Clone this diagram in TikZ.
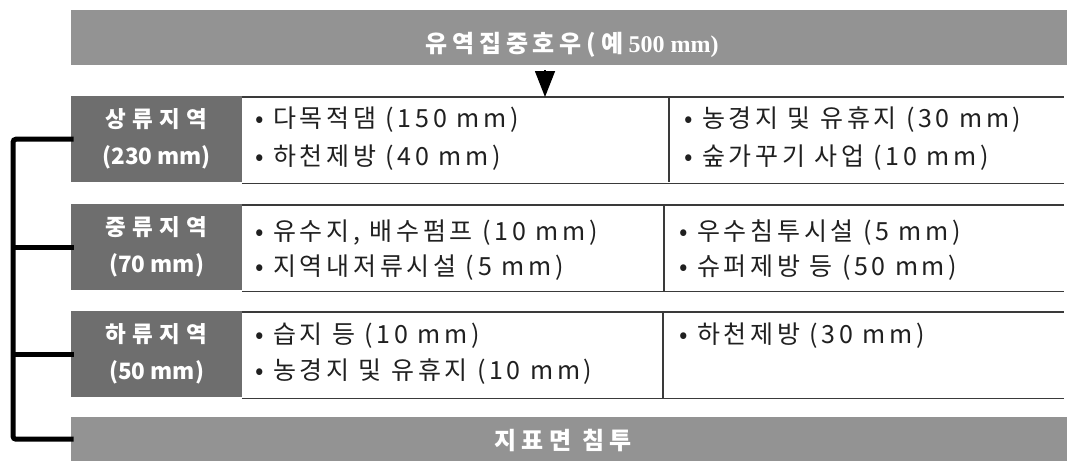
\documentclass[tikz,border=0pt]{standalone}
\usepackage{fontspec}
\setmainfont{Noto Sans CJK KR}
\newfontfamily\serifnum{Liberation Serif}
\usetikzlibrary{arrows.meta}
\definecolor{bannergray}{HTML}{939393}
\definecolor{labelgray}{HTML}{6E6E6E}
\definecolor{rulegray}{HTML}{3A3A3A}
\definecolor{inkgray}{HTML}{202020}
\newcommand{\spaced}[2]{{\addfontfeature{LetterSpace=#1}#2}}
\tikzset{
  banner/.style={fill=bannergray, draw=none, anchor=north west, inner sep=0pt},
  bannertext/.style={inner sep=0pt, text=white, font=\fontsize{24}{26}\selectfont\bfseries},
  regionlabel/.style={fill=labelgray, draw=none, anchor=north west, inner sep=0pt,
    minimum width=171pt, minimum height=86pt, align=center,
    font=\fontsize{22.5}{37}\selectfont\bfseries, text=white},
  rowframe/.style={draw=none, anchor=north west, inner sep=0pt, minimum height=86pt},
  rowline/.style={draw=rulegray, line width=1.3pt},
  item/.style={anchor=west, inner sep=0pt, font=\fontsize{25}{27}\selectfont\addfontfeature{LetterSpace=15}, text=inkgray},
  spine/.style={draw=black, line width=5pt, rounded corners=3pt, line cap=rect},
  flowarrow/.style={draw=black, line width=1.5pt, -{Triangle[length=26pt,width=20pt]}}
}
\begin{document}
\begin{tikzpicture}[x=1pt,y=-1pt]
\useasboundingbox (0,0) rectangle (1067,461);
% top banner
\node[banner, minimum width=996pt, minimum height=55pt] (top) at (71,10) {};
\node[bannertext] (toptext) at (572,45)
  {\spaced{20}{유역집중호우(예} {\serifnum 500 mm)}};
% row 1
\node[regionlabel] (l1) at (71,96) {\spaced{28}{상류지역}\\(230 mm)};
\node[rowframe, minimum width=822pt] (r1) at (242,97) {};
\draw[rowline] (r1.north west) -- (r1.north east);
\draw[rowline] (r1.south west) -- (r1.south east);
\coordinate (d1t) at (669,97);
\coordinate (d1b) at (669,182);
\draw[rowline] (d1t) -- (d1b);
\node[item] (a1) at (255,120) {• 다목적댐 (150 mm)};
\node[item] (a2) at (255,158) {• 하천제방 (40 mm)};
\node[item] (a3) at (684,120) {• 농경지 및 유휴지 (30 mm)};
\node[item] (a4) at (684,158) {• 숲가꾸기 사업 (10 mm)};
% row 2
\node[regionlabel] (l2) at (71,204) {\spaced{28}{중류지역}\\(70 mm)};
\node[rowframe, minimum width=822pt] (r2) at (242,205) {};
\draw[rowline] (r2.north west) -- (r2.north east);
\draw[rowline] (r2.south west) -- (r2.south east);
\coordinate (d2t) at (664,205);
\coordinate (d2b) at (664,291);
\draw[rowline] (d2t) -- (d2b);
\node[item] (b1) at (255,233) {• 유수지, 배수펌프 (10 mm)};
\node[item] (b2) at (255,268) {• 지역내저류시설 (5 mm)};
\node[item] (b3) at (679,233) {• 우수침투시설 (5 mm)};
\node[item] (b4) at (679,268) {• 슈퍼제방 등 (50 mm)};
% row 3
\node[regionlabel] (l3) at (71,311) {\spaced{28}{하류지역}\\(50 mm)};
\node[rowframe, minimum width=822pt] (r3) at (242,312) {};
\draw[rowline] (r3.north west) -- (r3.north east);
\draw[rowline] (r3.south west) -- (r3.south east);
\coordinate (d3t) at (663,312);
\coordinate (d3b) at (663,398);
\draw[rowline] (d3t) -- (d3b);
\node[item] (c1) at (255,336) {• 습지 등 (10 mm)};
\node[item] (c2) at (255,372) {• 농경지 및 유휴지 (10 mm)};
\node[item] (c3) at (679,336) {• 하천제방 (30 mm)};
% bottom bar
\node[banner, minimum width=996pt, minimum height=44pt] (bot) at (71,417) {};
\node[bannertext] (bottext) at (563,440) {\spaced{22}{지표면 침투}};
% arrow
\coordinate (arrtop) at (545,70);
\coordinate (arrbot) at (545,97);
\draw[flowarrow] (arrtop) -- (arrbot);
% left bracket
\coordinate (sp) at (13,0);
\draw[spine] (l1.west) -| (sp |- bot.west) -- (bot.west);
\draw[spine] (sp |- l2.west) -- (l2.west);
\draw[spine] (sp |- l3.west) -- (l3.west);
\end{tikzpicture}
\end{document}
